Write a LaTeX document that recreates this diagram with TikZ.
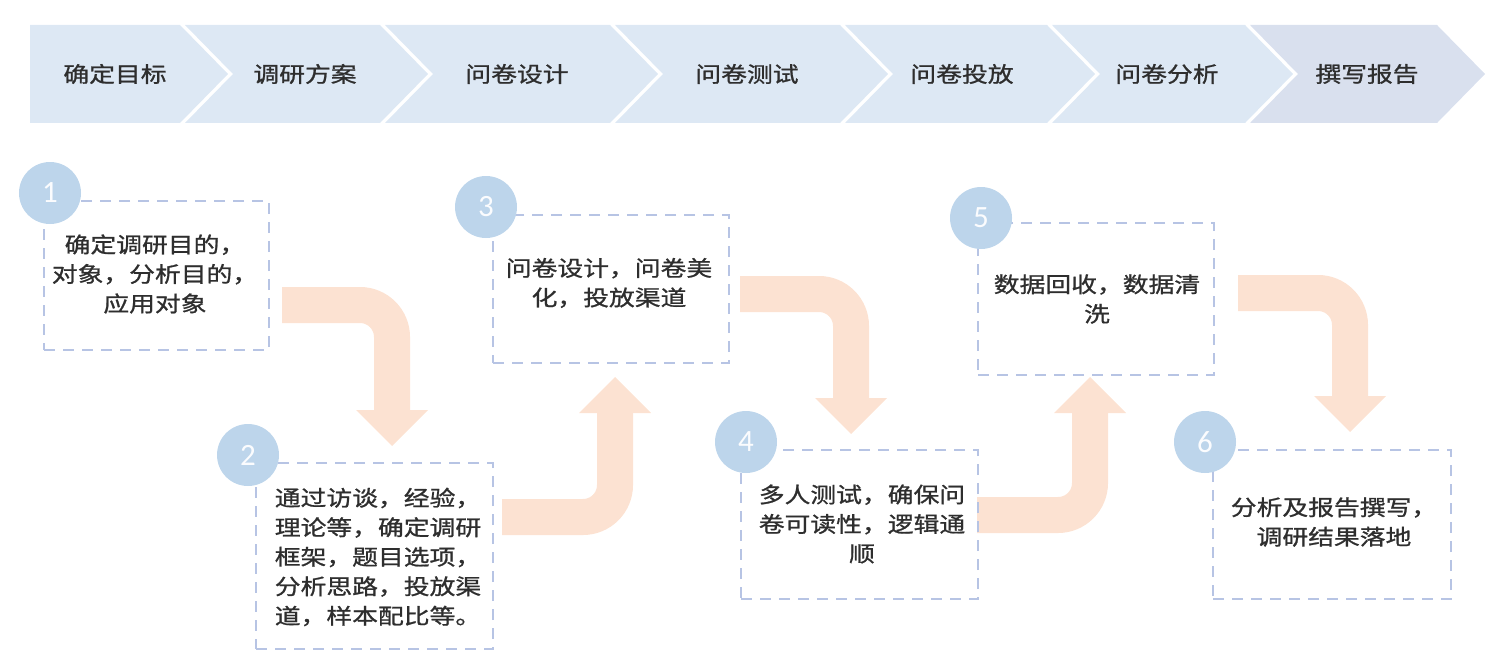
\documentclass[tikz,border=0pt]{standalone}
\usepackage{fontspec}
\usepackage{xcolor}
\usepackage{tikz}
\usetikzlibrary{calc}
\newfontfamily\cjk[FakeStretch=1.2, FakeBold=1]{Noto Sans CJK SC}
\newfontfamily\numfont{Carlito}
\definecolor{barblue}{HTML}{DDE8F4}
\definecolor{barlast}{HTML}{D9E0EE}
\definecolor{circblue}{HTML}{BDD5EB}
\definecolor{dashblue}{HTML}{B7C4E4}
\definecolor{peach}{HTML}{FCE2D2}
\definecolor{txtgray}{HTML}{2E2E2E}

\tikzset{
  steplabel/.style={text=txtgray, inner sep=0pt, font=\cjk\fontsize{21.5bp}{26bp}\selectfont},
  dbox/.style={draw=dashblue, line width=2bp, dash pattern=on 11bp off 8bp, anchor=north west, inner sep=0pt},
  numcirc/.style={circle, fill=circblue, minimum size=62bp, inner sep=0pt, text=white!94!circblue, font=\numfont\fontsize{31bp}{31bp}\selectfont},
  boxtext/.style={align=center, text=txtgray, inner sep=0pt, font=\cjk\fontsize{21.5bp}{29.5bp}\selectfont},
  band/.style={draw=peach, line width=36bp, rounded corners=32bp},
  head/.style={fill=peach},
}

\begin{document}
\begin{tikzpicture}[x=1bp, y=-1bp]
    \useasboundingbox (0,0) rectangle (1498,672);

    % Bandeau des etapes (chevrons)
    \fill[barblue] (30,25) -- (180,25) -- (228,74) -- (180,123) -- (30,123) -- cycle;
    \foreach \a/\b in {185/380, 385/610, 615/840, 845/1047, 1052/1245}
        \fill[barblue] (\a,25) -- (\b,25) -- (\b+48,74) -- (\b,123) -- (\a,123) -- (\a+48,74) -- cycle;
    \fill[barlast] (1250,25) -- (1437,25) -- (1485,74) -- (1437,123) -- (1250,123) -- (1298,74) -- cycle;

    % Titres des etapes
    \foreach \x/\t [count=\i] in {115/确定目标, 305/调研方案, 517/问卷设计, 747/问卷测试, 962/问卷投放, 1167/问卷分析, 1367/撰写报告}
        \node[steplabel] (s\i) at (\x,74) {\t};

    % Fleches coudees
    \coordinate (a1s) at (282,305);  \coordinate (a1t) at (392,446);
    \coordinate (a2s) at (502,517);  \coordinate (a2t) at (615,377);
    \coordinate (a3s) at (740,294);  \coordinate (a3t) at (851,434);
    \coordinate (a4s) at (977,515);  \coordinate (a4t) at (1090,377);
    \coordinate (a5s) at (1238,293); \coordinate (a5t) at (1350,432);

    \draw[band] (a1s) -| ($(a1t)+(0,-35)$);
    \fill[head] ($(a1t)+(-36,-36)$) -- ($(a1t)+(36,-36)$) -- (a1t) -- cycle;
    \draw[band] (a2s) -| ($(a2t)+(0,35)$);
    \fill[head] ($(a2t)+(-36,36)$) -- ($(a2t)+(36,36)$) -- (a2t) -- cycle;
    \draw[band] (a3s) -| ($(a3t)+(0,-35)$);
    \fill[head] ($(a3t)+(-36,-36)$) -- ($(a3t)+(36,-36)$) -- (a3t) -- cycle;
    \draw[band] (a4s) -| ($(a4t)+(0,35)$);
    \fill[head] ($(a4t)+(-36,36)$) -- ($(a4t)+(36,36)$) -- (a4t) -- cycle;
    \draw[band] (a5s) -| ($(a5t)+(0,-35)$);
    \fill[head] ($(a5t)+(-36,-36)$) -- ($(a5t)+(36,-36)$) -- (a5t) -- cycle;

    % Cadres pointilles
    \node[dbox, minimum width=225bp, minimum height=149bp] (b1) at (43,200) {};
    \node[dbox, minimum width=237bp, minimum height=186bp] (b2) at (255,462) {};
    \node[dbox, minimum width=236bp, minimum height=148bp] (b3) at (492,214) {};
    \node[dbox, minimum width=237bp, minimum height=149bp] (b4) at (740,449) {};
    \node[dbox, minimum width=236bp, minimum height=152bp] (b5) at (977,222) {};
    \node[dbox, minimum width=238bp, minimum height=149bp] (b6) at (1212,449) {};

    % Pastilles numerotees
    \node[numcirc] (c1) at (50,193) {1};
    \node[numcirc] (c2) at (248,455) {2};
    \node[numcirc] (c3) at (486,207) {3};
    \node[numcirc] (c4) at (746,442) {4};
    \node[numcirc] (c5) at (981,218) {5};
    \node[numcirc] (c6) at (1205,442) {6};

    % Textes
    \node[boxtext] (t1) at (155,274) {确定调研目的，\\对象，分析目的，\\应用对象};
    \node[boxtext] (t2) at (378,557) {通过访谈，经验，\\理论等，确定调研\\框架，题目选项，\\分析思路，投放渠\\道，样本配比等。};
    \node[boxtext] (t3) at (609,283) {问卷设计，问卷美\\化，投放渠道};
    \node[boxtext] (t4) at (862,524) {多人测试，确保问\\卷可读性，逻辑通\\顺};
    \node[boxtext] (t5) at (1097,299) {数据回收，数据清\\洗};
    \node[boxtext] (t6) at (1334,522) {分析及报告撰写，\\调研结果落地};
\end{tikzpicture}
\end{document}
